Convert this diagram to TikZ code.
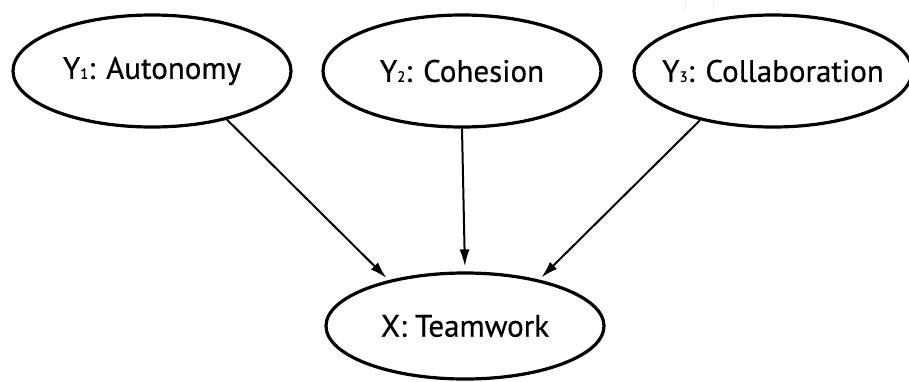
\documentclass[tikz,border=0pt]{standalone}
\usepackage{fontspec}
\setmainfont{PT Sans}[FakeBold=0.6]
\usetikzlibrary{shapes.geometric,arrows.meta}
\newcommand{\sub}[1]{{\fontsize{15}{15}\selectfont #1}}
\begin{document}
\begin{tikzpicture}[x=1pt,y=-1pt,
  var/.style={ellipse,draw,line width=3.2pt,inner sep=0pt,
    minimum width=278pt,minimum height=112pt},
  lbl/.style={inner sep=0pt,font=\fontsize{31}{31}\selectfont},
  link/.style={line width=2pt,-{Latex[length=17pt,width=10pt]}}]
\useasboundingbox (0,0) rectangle (909,381);
% faint stray marks near the top edge
\draw[gray!10,line width=1pt] (685,0) -- (685,11) (713,0) -- (713,11);
\node[var] (y1) at (152,71) {};
\node[var] (y2) at (462,71) {};
\node[var] (y3) at (773,71) {};
\node[var,minimum height=106pt] (x) at (465,326) {};
\node[lbl] (t1) at (y1) {Y\sub{1}: Autonomy};
\node[lbl] (t2) at (y2) {Y\sub{2}: Cohesion};
\node[lbl] (t3) at (y3) {Y\sub{3}: Collaboration};
\node[lbl] (tx) at (x) {X: Teamwork};
\draw[link,shorten >=3pt] (y1.-33) -- (x.149);
\draw[link,shorten >=5pt] (y2.south) -- (x.north);
\draw[link,shorten >=3pt] (y3.-146) -- (x.32);
\end{tikzpicture}
\end{document}
